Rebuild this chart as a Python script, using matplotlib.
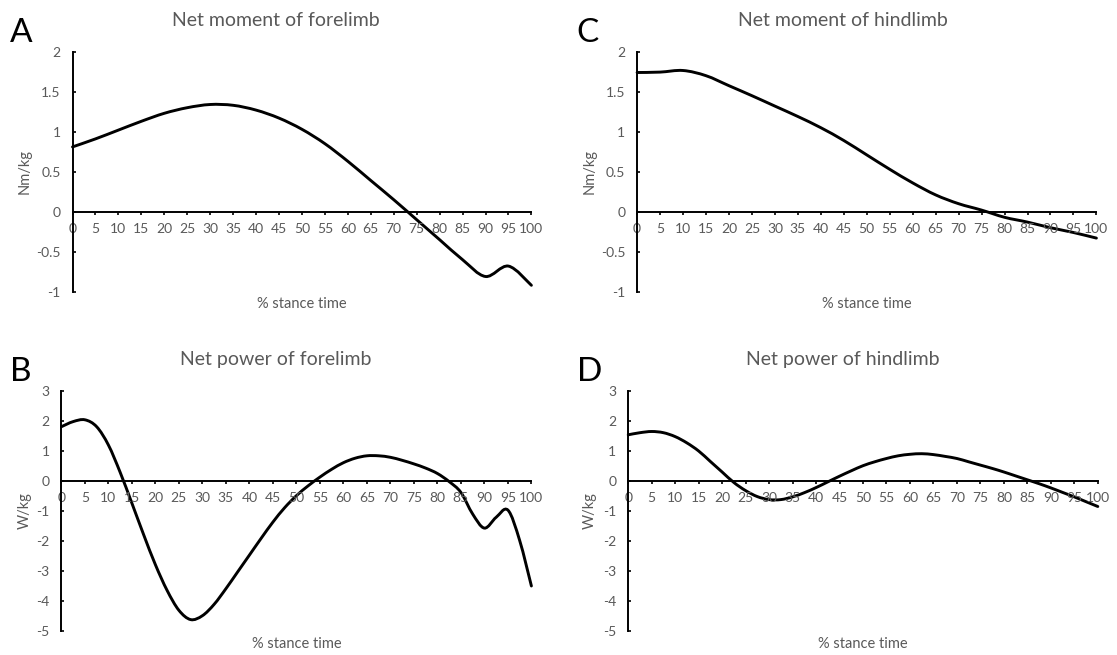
import numpy as np
import matplotlib
matplotlib.use("Agg")
import matplotlib.pyplot as plt
from matplotlib.path import Path
from matplotlib.patches import PathPatch

plt.rcParams["font.family"] = ["Lato", "DejaVu Sans"]
plt.rcParams["axes.unicode_minus"] = False

# --- data: % stance time vs. joint moment / power ---
x_moment = [0, 5, 10, 15, 20, 25, 30, 35, 40, 45, 50,
            55, 60, 65, 70, 75, 80, 85, 90, 95, 100]
moment_fore = [0.81, 0.91, 1.02, 1.13, 1.23, 1.30, 1.34, 1.33, 1.27, 1.17, 1.03,
               0.85, 0.63, 0.39, 0.15, -0.10, -0.35, -0.60, -0.81, -0.68, -0.92]
moment_hind = [1.74, 1.745, 1.765, 1.70, 1.575, 1.45, 1.32, 1.19, 1.05, 0.89, 0.71,
               0.53, 0.36, 0.21, 0.10, 0.02, -0.07, -0.13, -0.20, -0.26, -0.33]

x_power = [0, 2.5, 5, 7.5, 10, 12.5, 15, 17.5, 20, 22.5, 25, 27.5, 30, 32.5,
           35, 37.5, 40, 42.5, 45, 47.5, 50, 52.5, 55, 57.5, 60, 62.5, 65, 67.5,
           70, 72.5, 75, 77.5, 80, 82.5, 85, 87.5, 90, 92.5, 95, 97.5, 100]
power_fore = [1.80, 1.97, 2.03, 1.80, 1.19, 0.28, -0.75, -1.80, -2.80, -3.66,
              -4.32, -4.63, -4.50, -4.12, -3.60, -3.04, -2.48, -1.92, -1.38, -0.90,
              -0.50, -0.17, 0.12, 0.38, 0.60, 0.75, 0.83, 0.83, 0.78, 0.68,
              0.56, 0.42, 0.24, -0.03, -0.39, -1.11, -1.58, -1.22, -0.98, -1.99, -3.51]
power_hind = [1.53, 1.60, 1.64, 1.60, 1.47, 1.26, 0.99, 0.64, 0.29, -0.06,
              -0.33, -0.53, -0.63, -0.63, -0.54, -0.40, -0.23, -0.04, 0.15, 0.33,
              0.50, 0.63, 0.74, 0.83, 0.88, 0.90, 0.87, 0.81, 0.74, 0.63,
              0.52, 0.41, 0.29, 0.16, 0.03, -0.10, -0.24, -0.39, -0.54, -0.70, -0.86]

x_ticks = list(range(0, 101, 5))
moment_ticks = [-1, -0.5, 0, 0.5, 1, 1.5, 2]
moment_tick_labels = ["-1", "-0.5", "0", "0.5", "1", "1.5", "2"]
power_ticks = [-5, -4, -3, -2, -1, 0, 1, 2, 3]
power_tick_labels = ["-5", "-4", "-3", "-2", "-1", "0", "1", "2", "3"]

GREY = "#595959"
W, H = 1117, 655


def smooth_path(x, y):
    # Bezier spline through the points, like a spreadsheet "smoothed line"
    pts = np.column_stack([x, y]).astype(float)
    ext = np.vstack([pts[0], pts, pts[-1]])
    verts = [pts[0]]
    codes = [Path.MOVETO]
    for i in range(len(pts) - 1):
        p0, p1, p2, p3 = ext[i], ext[i + 1], ext[i + 2], ext[i + 3]
        verts += [p1 + (p2 - p0) / 6, p2 - (p3 - p1) / 6, p2]
        codes += [Path.CURVE4] * 3
    return Path(verts, codes)


def make_panel(box, x, y, yticks, ylabels, title, ylabel, letter, title_x,
               title_base, label_base, ylabel_x, letter_x):
    left, right, top, bottom = box
    ax = fig.add_axes([left / W, 1 - bottom / H, (right - left) / W, (bottom - top) / H])
    ax.add_patch(PathPatch(smooth_path(x, y), fill=False, edgecolor="black",
                           lw=2.1, clip_on=False, capstyle="round"))
    ax.set_xlim(0, 100)
    ax.set_ylim(yticks[0], yticks[-1])
    ax.set_xticks(x_ticks)
    ax.set_xticklabels([str(t) for t in x_ticks])
    ax.set_yticks(yticks)
    ax.set_yticklabels(ylabels)
    for s in ("top", "right"):
        ax.spines[s].set_visible(False)
    ax.spines["bottom"].set_position(("data", 0))
    for s in ("left", "bottom"):
        ax.spines[s].set_linewidth(1.4)
        ax.spines[s].set_color("black")
    ax.tick_params(axis="x", direction="out", length=2.5, width=1.2, pad=5.5,
                   labelsize=10, labelcolor=GREY, color="black")
    ax.tick_params(axis="y", direction="in", length=2.5, width=1.2, pad=8.5,
                   labelsize=10, labelcolor=GREY, color="black")
    ax.patch.set_alpha(0)

    cx = (left + right) / 2
    fig.text(title_x / W, 1 - title_base / H, title, ha="center", va="baseline",
             fontsize=14, color=GREY)
    fig.text(cx / W, 1 - label_base / H, "% stance time", ha="center",
             va="baseline", fontsize=10.5, color=GREY)
    fig.text(ylabel_x / W, 1 - (top + bottom) / 2 / H, ylabel, rotation=90,
             ha="center", va="center", fontsize=10.5, color=GREY)
    fig.text(letter_x / W, 1 - (top - 10) / H, letter, ha="left", va="baseline",
             fontsize=24, color="black")
    return ax


fig = plt.figure(figsize=(W / 100, H / 100), dpi=100)

make_panel((72.5, 531.4, 51.7, 291.7), x_moment, moment_fore, moment_ticks,
           moment_tick_labels, "Net moment of forelimb", "Nm/kg", "A", 276, 26, 308.5, 25, 10)
make_panel((637.1, 1096.4, 51.7, 291.7), x_moment, moment_hind, moment_ticks,
           moment_tick_labels, "Net moment of hindlimb", "Nm/kg", "C", 843, 26, 308.5, 590, 576)
make_panel((61.4, 531.4, 390.7, 630.7), x_power, power_fore, power_ticks,
           power_tick_labels, "Net power of forelimb", "W/kg", "B", 276, 365, 648, 25, 10)
make_panel((628.2, 1097.8, 390.7, 630.7), x_power, power_hind, power_ticks,
           power_tick_labels, "Net power of hindlimb", "W/kg", "D", 843, 365, 648, 590, 577)

fig.savefig("out.png", dpi=100, facecolor="white")
